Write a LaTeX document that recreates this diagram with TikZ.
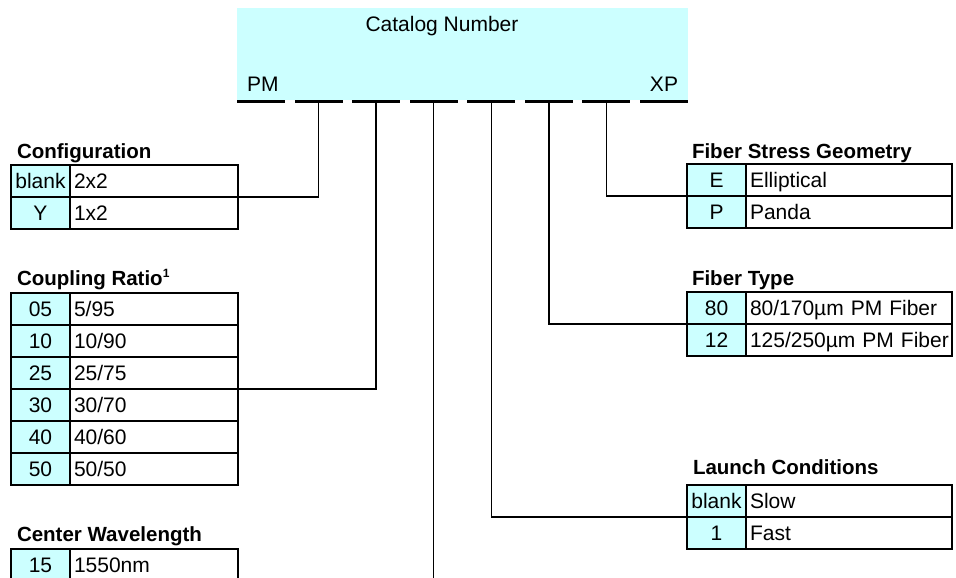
\documentclass[tikz,border=0pt]{standalone}
\usepackage{fontspec}
\setmainfont{Liberation Sans}
\definecolor{cy}{RGB}{204,255,255}
\begin{document}
\begin{tikzpicture}[x=1pt,y=-1pt,
  every node/.style={inner sep=0pt, outer sep=0pt},
  txt/.style={font=\fontsize{21}{25}\selectfont},
  ttl/.style={font=\fontsize{20.5}{24}\selectfont\bfseries, anchor=base west},
  code/.style={draw, line width=2pt, fill=cy, minimum width=59pt, minimum height=32pt, anchor=north west, txt, text height=14.5pt, text depth=0pt},
  descL/.style={draw, line width=2pt, fill=white, minimum height=32pt, text width=160pt, inner xsep=4pt, align=left, anchor=north west, txt, text height=14.5pt, text depth=0pt},
  descR/.style={descL, text width=198pt, inner xsep=4pt},
  dashseg/.style={fill=black, minimum width=48pt, minimum height=3.5pt},
  conn/.style={line width=1.5pt}
]
\useasboundingbox (0,0) rectangle (956,578);
\fill[white] (0,0) rectangle (956,578);

% catalog number box
\node[fill=cy, minimum width=451pt, minimum height=92pt, anchor=north west] (cat) at (237,8) {};
\node[txt, anchor=base] (catt) at (442,32) {Catalog Number};
\node[txt, anchor=base west] (pm) at (247,92) {PM};
\node[txt, anchor=base east] (xp) at (678,92) {XP};
\foreach \i in {1,...,8}{
  \node[dashseg] (d\i) at ({261+(\i-1)*57.57},101.5) {};
}

% connectors
\coordinate (cwend) at (434,578);
\draw[conn] (d2.south) |- (70,197);
\draw[conn] (d3.south) |- (70,389);
\draw[conn] (d4.south) -- (d4.south |- cwend);
\draw[conn] (d5.south) |- (700,517);
\draw[conn] (d6.south) |- (700,324);
\draw[conn] (d7.south) |- (700,196);

% Configuration
\node[ttl] (cfgt) at (17,158) {Configuration};
\node[code] (cfgc1) at (11,165) {blank};
\node[descL] (cfgd1) at (70,165) {2x2};
\node[code] (cfgc2) at (11,197) {Y};
\node[descL] (cfgd2) at (70,197) {1x2};

% Coupling ratio
\node[ttl] (cpt) at (17,285) {Coupling Ratio\textsuperscript{\fontsize{12}{12}\selectfont 1}};
\foreach \c/\d [count=\k from 0] in {05/5\slash 95,10/10\slash 90,25/25\slash 75,30/30\slash 70,40/40\slash 60,50/50\slash 50}{
  \node[code] (cpc\k) at (11,293+32*\k) {\c};
  \node[descL] (cpd\k) at (70,293+32*\k) {\d};
}

% Center wavelength
\node[ttl] (cwt) at (17,541) {Center Wavelength};
\node[code] (cwc1) at (11,549) {15};
\node[descL] (cwd1) at (70,549) {1550nm};

% Fiber stress geometry
\node[ttl] (fst) at (692,158) {Fiber Stress Geometry};
\node[code] (fsc1) at (687,164) {E};
\node[descR] (fsd1) at (746,164) {Elliptical};
\node[code] (fsc2) at (687,196) {P};
\node[descR] (fsd2) at (746,196) {Panda};

% Fiber type
\node[ttl] (ftt) at (692,285) {Fiber Type};
\node[code] (ftc1) at (687,292) {80};
\node[descR] (ftd1) at (746,292) {\mbox{80/170µm PM Fiber}};
\node[code] (ftc2) at (687,324) {12};
\node[descR] (ftd2) at (746,324) {\mbox{125/250µm PM Fiber}};

% Launch conditions
\node[ttl] (lct) at (693,474) {Launch Conditions};
\node[code] (lcc1) at (687,485) {blank};
\node[descR] (lcd1) at (746,485) {Slow};
\node[code] (lcc2) at (687,517) {1};
\node[descR] (lcd2) at (746,517) {Fast};
\end{tikzpicture}
\end{document}
